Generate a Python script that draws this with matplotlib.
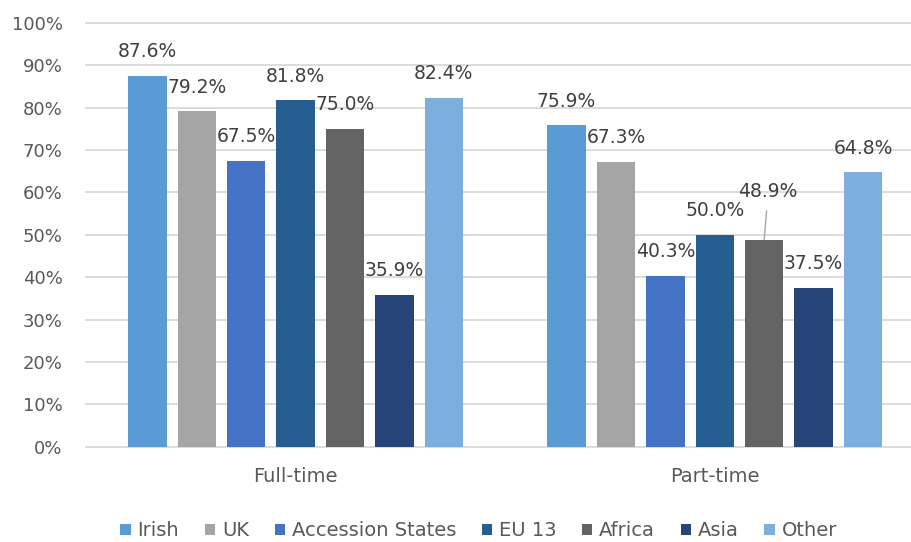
import matplotlib
matplotlib.use("Agg")
import matplotlib.pyplot as plt
from matplotlib.patches import Patch
import numpy as np

plt.rcParams['font.family'] = ['DejaVu Sans']

categories = ["Full-time", "Part-time"]
series_names = ["Irish", "UK", "Accession States", "EU 13", "Africa", "Asia", "Other"]
irish = [87.6, 75.9]
uk = [79.2, 67.3]
accession = [67.5, 40.3]
eu13 = [81.8, 50.0]
africa = [75.0, 48.9]
asia = [35.9, 37.5]
other = [82.4, 64.8]
yticks = [0, 10, 20, 30, 40, 50, 60, 70, 80, 90, 100]

series_values = [irish, uk, accession, eu13, africa, asia, other]
colors = ["#5B9BD5", "#A5A5A5", "#4472C4", "#255E91", "#636363", "#264478", "#7CAFDD"]

W, H = 911, 542
fig = plt.figure(figsize=(W / 100, H / 100), dpi=100)
left_px, right_px = 86, 924.4
bottom_px, top_px = 446.7, 23
ax = fig.add_axes([left_px / W, 1 - bottom_px / H, (right_px - left_px) / W, (bottom_px - top_px) / H])

x = np.arange(len(categories))
step = 49.4 / 419.2
width = 38.5 / 419.2
n = len(series_names)

for i, (name, vals, c) in enumerate(zip(series_names, series_values, colors)):
    xs = x + (i - (n - 1) / 2) * step
    ax.bar(xs, vals, width=width, color=c, zorder=3, label=name)
    for j, (xx, v) in enumerate(zip(xs, vals)):
        if name == "Africa" and j == 1:
            ax.annotate(f"{v:.1f}%", xy=(xx, v), xytext=(4, 42.5), textcoords='offset pixels',
                        ha='center', va='baseline', fontsize=13.5, color='#404040', zorder=5,
                        arrowprops=dict(arrowstyle='-', color='#A6A6A6', lw=1, shrinkA=5, shrinkB=0))
        else:
            ax.annotate(f"{v:.1f}%", xy=(xx, v), xytext=(0, 18.5), textcoords='offset pixels',
                        ha='center', va='baseline', fontsize=13.5, color='#404040', zorder=5)

ax.set_xlim(-0.5, 1.5)
ax.set_ylim(0, 100)
ax.set_yticks(yticks)
ax.set_yticklabels([f"{t}%" for t in yticks])
ax.set_xticks(x)
ax.set_xticklabels(categories)
ax.tick_params(axis='y', length=0, pad=16.8, labelsize=13, labelcolor='#595959')
ax.tick_params(axis='x', length=0, pad=14.5, labelsize=14, labelcolor='#595959')
ax.yaxis.grid(True, color='#D9D9D9', linewidth=1.3, zorder=0)
ax.set_axisbelow(True)
for gl in ax.get_ygridlines():
    gl.set_clip_on(False)
for s in ax.spines.values():
    s.set_visible(False)

handles = [Patch(facecolor=c, edgecolor='none', label=nm) for nm, c in zip(series_names, colors)]
fig.legend(handles=handles, loc='center', bbox_to_anchor=(478.6 / W, 1 - 531 / H), ncol=7,
           frameon=False, fontsize=14, labelcolor='#595959', handlelength=0.52, handleheight=0.52,
           handletextpad=0.35, columnspacing=1.33, borderaxespad=0, borderpad=0)

fig.savefig("out.png", dpi=100)
